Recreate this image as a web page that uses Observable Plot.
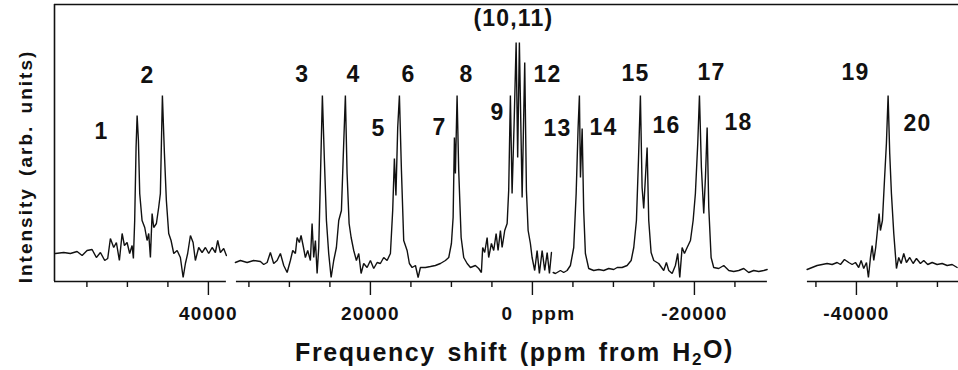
<!DOCTYPE html>
<html>
<head>
<meta charset="utf-8">
<script src="https://cdn.jsdelivr.net/npm/d3@7"></script>
<script src="https://cdn.jsdelivr.net/npm/@observablehq/plot@0.6"></script>
<style>
  html, body { margin: 0; padding: 0; background: #fff; }
  #chart svg { display: block; }
</style>
</head>
<body>
<div id="chart"></div>
<script>
// ---- Spectrum traces: frequency shift (ppm from H2O) and intensity (arb. units) ----
// Segment 1 (left piece)
const seg1Ppm = [58890, 57860, 57040, 56210, 55590, 54980, 54360, 53830, 53330, 52800, 52430, 52100, 51690, 51360, 50990, 50650, 50370, 50040, 49720, 49420, 49260, 49100, 48930, 48800, 48640, 48480, 48190, 47860, 47570, 47370, 47160, 46950, 46750, 46420, 46140, 45930, 45680, 45430, 45190, 44900, 44610, 44280, 43860, 43460, 43120, 42840, 42560, 42220, 41890, 41610, 41200, 40780, 40370, 39960, 39540, 39140, 38850, 38520, 38110, 37780];
const seg1Int = [28, 29, 28, 30, 26, 31, 32, 24, 29, 21, 23, 43, 34, 39, 21, 48, 36, 39, 28, 36, 23, 61, 134, 166, 141, 88, 61, 54, 41, 48, 24, 68, 54, 58, 74, 88, 186, 128, 81, 48, 41, 28, 31, 24, 4, 18, 28, 46, 39, 21, 34, 29, 34, 28, 34, 29, 41, 29, 33, 26];
// Segment 2a (middle piece, up to the small break)
const seg2aPpm = [36670, 36050, 35220, 34410, 33580, 33170, 32750, 32350, 31940, 31520, 31110, 30700, 30280, 29880, 29590, 29260, 29050, 28770, 28560, 28310, 28030, 27740, 27410, 27200, 27000, 26790, 26580, 26380, 26170, 25930, 25680, 25430, 25150, 24850, 24530, 24200, 23910, 23580, 23370, 23090, 22880, 22630, 22380, 22060, 21730, 21440, 21150, 20830, 20410, 20000, 19590, 19170, 18770, 18360, 17940, 17530, 17250, 17040, 16850, 16630, 16420, 16170, 15890, 15470, 15190, 14850, 14440, 14110, 13830, 13210, 12590, 11980, 11360, 10740, 10330, 10000, 9790, 9630, 9510, 9300, 9100, 8800, 8480, 8060, 7650, 7040, 6630, 6300, 6140, 5890, 5590, 5400, 5060, 4780, 4480, 4240, 3950, 3740, 3420, 3120, 2930, 2720, 2510, 2260, 2010, 1820, 1610, 1270, 950, 740, 530, 250, 40, -280, -580, -860, -1200, -1520, -1820, -2100, -2350];
const seg2aInt = [19, 21, 19, 21, 20, 17, 19, 29, 18, 21, 28, 16, 9, 21, 31, 28, 44, 39, 46, 36, 24, 31, 21, 58, 24, 41, 8, 34, 104, 186, 121, 61, 28, 4, 21, 34, 61, 71, 121, 186, 108, 58, 44, 31, 21, 28, 8, 18, 14, 21, 13, 19, 18, 24, 21, 28, 71, 123, 86, 154, 186, 111, 41, 31, 18, 14, 16, 4, 14, 14, 15, 16, 18, 21, 24, 38, 64, 144, 108, 186, 111, 44, 24, 18, 14, 16, 13, 9, 34, 29, 44, 24, 38, 31, 48, 31, 51, 34, 51, 58, 91, 186, 88, 158, 239, 124, 239, 84, 219, 91, 51, 38, 24, 11, 31, 8, 31, 11, 29, 8, 29];
// Segment 2b (middle piece, after the small break)
const seg2bPpm = [-2560, -2840, -3460, -3860, -4280, -4690, -5100, -5400, -5640, -5800, -5930, -6140, -6330, -6540, -6950, -7570, -8190, -8800, -9420, -10040, -10460, -11070, -11690, -12190, -12510, -12840, -13090, -13330, -13540, -13740, -13950, -14160, -14360, -14650, -14980, -15590, -16210, -16540, -16830, -17250, -17650, -17940, -18190, -18480, -18770, -19100, -19510, -19840, -20120, -20410, -20620, -20860, -21150, -21360, -21570, -21770, -22060, -22380, -23000, -23620, -24240, -24850, -25470, -26090, -26700, -27320, -27940, -28560, -28980];
const seg2bInt = [9, 8, 11, 9, 11, 16, 34, 88, 154, 186, 104, 153, 71, 28, 13, 11, 12, 11, 13, 12, 14, 14, 16, 21, 34, 61, 121, 186, 94, 73, 104, 134, 61, 29, 21, 18, 11, 19, 11, 8, 16, 28, 4, 34, 28, 34, 41, 61, 88, 138, 186, 114, 68, 104, 154, 74, 24, 14, 13, 16, 11, 10, 11, 13, 9, 11, 10, 11, 12];
// Segment 3 (right piece)
const seg3Ppm = [-33910, -34530, -35150, -35770, -36380, -37000, -37620, -38030, -38520, -39050, -39470, -39880, -40280, -40580, -40900, -41240, -41480, -41730, -41940, -42140, -42380, -42630, -42800, -42960, -43210, -43460, -43700, -43910, -44110, -44320, -44610, -44940, -45220, -45520, -45840, -46170, -46580, -47000, -47410, -47900, -48310, -48800, -49350, -49960, -50580, -51200, -51820, -52430];
const seg3Int = [12, 14, 16, 17, 18, 17, 19, 17, 22, 19, 17, 19, 14, 21, 13, 19, 4, 24, 36, 21, 34, 54, 68, 51, 61, 101, 138, 186, 128, 88, 48, 13, 24, 18, 28, 19, 24, 18, 23, 18, 21, 17, 19, 17, 18, 16, 17, 14];

// ---- Peak labels ----
const peakNames = ["1", "2", "3", "4", "5", "6", "7", "8", "9", "(10,11)", "12", "13", "14", "15", "16", "17", "18", "19", "20"];
const peakPpm   = [53210, 47530, 28400, 22100, 19010, 15310, 11480, 8150, 4320, 2350, -1850, -3090, -8770, -12720, -16540, -22100, -25430, -39880, -47530];
const peakInt   = [150, 206, 207, 207, 153, 207, 154, 207, 169, 263, 207, 153, 154, 208, 156, 209, 159, 209, 158];

// ---- Axis ----
const axisStart = [59000, 36540, -33950];
const axisEnd   = [37780, -29010, -52600];
const majorTicks = [40000, 20000, 0, -20000, -40000];
const minorTicks = [55000, 50000, 45000, 35000, 30000, 25000, 15000, 10000, 5000, -5000, -10000, -15000, -25000, -35000, -45000, -50000];
const tickLabelValues = [40000, 20000, -20000, -40000];
const tickLabels = ["40000", "20000", "-20000", "-40000"];
const xTitle = "Frequency shift (ppm from H2O)";
const yTitle = "Intensity (arb. units)";

function rows(ppm, inten) { return ppm.map((p, i) => ({ppm: p, intensity: inten[i]})); }
const traces = [rows(seg1Ppm, seg1Int), rows(seg2aPpm, seg2aInt), rows(seg2bPpm, seg2bInt), rows(seg3Ppm, seg3Int)];
const peaks = peakNames.map((n, i) => ({name: n, ppm: peakPpm[i], intensity: peakInt[i]}));
const axisSegs = axisStart.map((s, i) => ({x1: s, x2: axisEnd[i]}));

const ink = "#111";
const font = "'Liberation Sans', Arial, Helvetica, sans-serif";

const chart = Plot.plot({
  width: 958,
  height: 370,
  marginLeft: 54,
  marginRight: 0,
  marginTop: 4,
  marginBottom: 89,
  x: {domain: [59000, -52600]},
  y: {domain: [0, 277], axis: null},
  style: {fontFamily: font, background: "#fff", color: ink, overflow: "visible"},
  marks: [
    Plot.ruleY([277], {stroke: ink, strokeWidth: 1.6}),
    Plot.ruleX([59000], {y1: 0, y2: 277, stroke: ink, strokeWidth: 1.6}),
    Plot.ruleY(axisSegs, {y: 0, x1: "x1", x2: "x2", stroke: ink, strokeWidth: 1.6}),
    Plot.axisX({ticks: minorTicks, tickSize: 6, tickFormat: () => "", stroke: ink, strokeWidth: 1.4, strokeOpacity: 1}),
    Plot.axisX({ticks: majorTicks, tickSize: 14, tickFormat: () => "", stroke: ink, strokeWidth: 1.4, strokeOpacity: 1}),
    Plot.text(tickLabelValues, {x: d => d, text: (d, i) => tickLabels[i], frameAnchor: "bottom", lineAnchor: "middle", dy: 32, fontSize: 19, fontWeight: "bold", fill: ink}),
    Plot.text([0], {x: d => d, text: () => "0", frameAnchor: "bottom", lineAnchor: "middle", dx: -25, dy: 32, fontSize: 19, fontWeight: "bold", fill: ink}),
    Plot.text([0], {x: d => d, text: () => "ppm", frameAnchor: "bottom", lineAnchor: "middle", dx: 21, dy: 32, fontSize: 19, fontWeight: "bold", fill: ink}),
    ...traces.map(t => Plot.line(t, {x: "ppm", y: "intensity", stroke: ink, strokeWidth: 1.4, strokeLinejoin: "miter"})),
    Plot.text(peaks, {x: "ppm", y: "intensity", text: "name", fontSize: 23, fontWeight: "bold", fill: ink, lineAnchor: "middle"}),
    Plot.text([xTitle], {frameAnchor: "bottom", textAnchor: "middle", dx: 8, dy: 71, fontSize: 25, fontWeight: "bold", fill: ink, lineAnchor: "middle"}),
    Plot.text([yTitle], {frameAnchor: "left", textAnchor: "middle", dx: -29, dy: 23.5, rotate: -90, fontSize: 19, fontWeight: "bold", fill: ink, lineAnchor: "middle"})
  ]
});

document.getElementById("chart").appendChild(chart);

// Typographic touches: letter spacing and the subscript in H2O
const svg = d3.select(chart);
svg.selectAll("text").each(function() {
  const t = d3.select(this);
  const s = t.text();
  if (s === yTitle) {
    t.style("letter-spacing", "2px").style("word-spacing", "4px");
  } else if (s === xTitle) {
    t.style("letter-spacing", "1.6px").style("word-spacing", "3px");
    t.text(null);
    t.append("tspan").text("Frequency shift (ppm from H");
    t.append("tspan").attr("dy", "0.28em").attr("font-size", "17").text("2");
    t.append("tspan").attr("dy", "-0.28em").text("O)");
  } else {
    t.style("letter-spacing", "1.2px");
  }
});
</script>
</body>
</html>
